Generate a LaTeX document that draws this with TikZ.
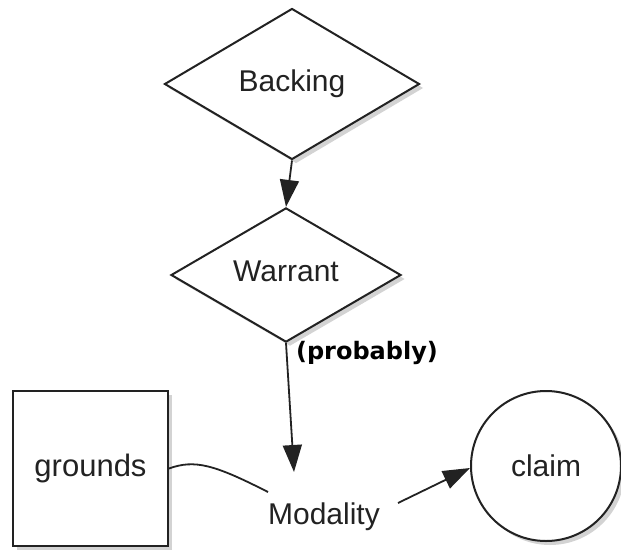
\documentclass[tikz,border=0pt]{standalone}
\usepackage{fontspec}
\setmainfont{Liberation Sans}
\newfontfamily\labelfont{DejaVu Sans}
\usetikzlibrary{shapes.geometric,arrows.meta,shadows}
\definecolor{ink}{HTML}{222222}
\begin{document}
\begin{tikzpicture}[x=1pt,y=-1pt,
  every node/.style={text=ink,font=\fontsize{30}{34}\selectfont},
  shapeline/.style={draw=ink,line width=2pt,fill=white,
    drop shadow={opacity=0.35,shadow xshift=4pt,shadow yshift=-4pt}},
  decision/.style={shapeline,diamond,inner sep=0pt},
  link/.style={draw=ink,line width=1.8pt},
  arrowlink/.style={link,-{Triangle[length=27pt,width=19pt]}}]
\useasboundingbox (0,0) rectangle (621,549);

% argument elements
\node[decision,minimum width=255pt,minimum height=151pt] (backing) at (292,84) {Backing};
\node[decision,minimum width=230pt,minimum height=124pt,text depth=8pt] (warrant) at (286,275) {Warrant};
\node[shapeline,rectangle,minimum width=155pt,minimum height=155pt,
      font=\fontsize{31}{34}\selectfont,text depth=6.5pt] (grounds) at (90.5,468.5) {grounds};
\node[shapeline,circle,minimum size=150pt,inner sep=0pt] (claim) at (546,466) {claim};
\node[anchor=base] (modality) at (324,524) {Modality};
\node[font=\labelfont\bfseries\fontsize{24}{27}\selectfont,text=black] (qualifier) at (367,353) {(probably)};

% connector end points
\coordinate (modtop) at (294,472);
\coordinate (modleft) at (268,492);
\coordinate (modright) at (398,503);

% connectors
\draw[arrowlink] (backing.south) -- (warrant.north);
\draw[arrowlink] (warrant.south) -- (modtop);
\draw[link] (grounds.east) .. controls (195,459) and (215,465) .. (modleft);
\draw[arrowlink] (modright) -- (claim.west |- 0,468);
\end{tikzpicture}
\end{document}
